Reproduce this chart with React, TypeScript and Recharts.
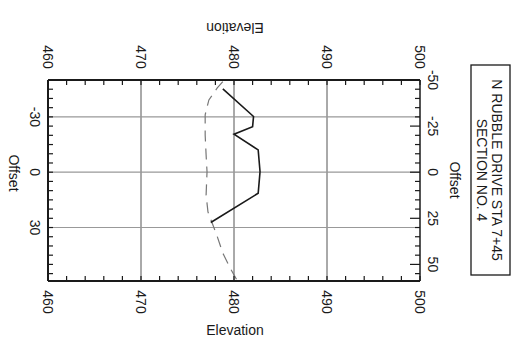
import { ScatterChart, Scatter, XAxis, YAxis, ReferenceLine } from 'recharts';

// cross-section, drawn sideways like the scanned sheet
const solidOffset = [-45.2, -30.2, -24.7, -20.6, -12.1, -0.3, 11.4, 27.3];
const solidElev = [478.8, 482.1, 482.0, 480.0, 482.6, 482.8, 482.6, 477.5];
const dashedOffset = [-49.1, -45.7, -39.2, -31.1, -20.2, -9.4, -0.2, 12.3, 21.5, 34.9, 43.9, 52.1, 58.4];
const dashedElev = [478.8, 478.2, 477.3, 476.9, 476.9, 477.0, 477.1, 477.0, 477.2, 478.2, 478.8, 479.6, 480.3];

const elevLabels = [460, 470, 480, 490, 500];
const elevTicks = [460, 462, 464, 466, 468, 470, 472, 474, 476, 478, 480, 482, 484, 486, 488, 490, 492, 494, 496, 498, 500];
const elevGrid = [470, 480, 490];
const offsetLeftLabels = [-30, 0, 30];
const offsetRightLabels = [-50, -25, 0, 25, 50];
const offsetTicks = [-50, -45, -40, -35, -30, -25, -20, -15, -10, -5, 0, 5, 10, 15, 20, 25, 30, 35, 40, 45, 50, 55];
const offsetGrid = [-30, 0, 30];
const titleLines = ['N RUBBLE DRIVE STA 7+45', 'SECTION NO. 4'];

const solidData = solidOffset.map((o, i) => ({ off: o, elev: solidElev[i] }));
const dashedData = dashedOffset.map((o, i) => ({ off: o, elev: dashedElev[i] }));

const FONT = '"Liberation Sans", Arial, sans-serif';
const INK = '#1a1a1a';

const rotText = (x: number, y: number, s: string | number, angle = 90, size = 14) => (
  <text
    x={x}
    y={y}
    transform={`rotate(${angle} ${x} ${y})`}
    textAnchor="middle"
    dominantBaseline="central"
    fontFamily={FONT}
    fontSize={size}
    fill={INK}
  >
    {s}
  </text>
);

const TopTick = ({ x, y, payload }: any) => (
  <g>
    <line x1={x} y1={y} x2={x} y2={y + 5} stroke={INK} strokeWidth={1.2} />
    {elevLabels.includes(payload.value) && rotText(x, y - 23, payload.value)}
  </g>
);

const BottomTick = ({ x, y, payload }: any) => (
  <g>
    <line x1={x} y1={y} x2={x} y2={y - 5} stroke={INK} strokeWidth={1.2} />
    {elevLabels.includes(payload.value) && rotText(x, y + 21, payload.value)}
  </g>
);

const LeftTick = ({ x, y, payload }: any) => (
  <g>
    <line x1={x} y1={y} x2={x + 5} y2={y} stroke={INK} strokeWidth={1.2} />
    {offsetLeftLabels.includes(payload.value) && rotText(x - 13, y, payload.value)}
  </g>
);

const RightTick = ({ x, y, payload }: any) => {
  const major = offsetRightLabels.includes(payload.value);
  return (
    <g>
      <line x1={x} y1={y} x2={x - (major ? 10 : 5)} y2={y} stroke={INK} strokeWidth={1.2} />
      {major && rotText(x + 13, y, payload.value)}
    </g>
  );
};

const TitleBox = () => (
  <g>
    <rect x={471} y={65} width={39} height={210} fill="none" stroke={INK} strokeWidth={1.3} />
    {rotText(497, 170, titleLines[0])}
    {rotText(482, 170, titleLines[1])}
  </g>
);

const Dot = () => <g />;

export default function App() {
  return (
    <div style={{ width: 519, height: 343, background: '#fff' }}>
      <style>{`body{margin:0}`}</style>
      <ScatterChart width={519} height={343} margin={{ top: 50, right: 69, bottom: 32, left: 18 }}>
        <XAxis
          xAxisId="top"
          orientation="top"
          type="number"
          dataKey="elev"
          domain={[460, 500]}
          ticks={elevTicks}
          interval={0}
          height={30}
          tickSize={0}
          tickMargin={0}
          tickLine={false}
          tick={TopTick}
          axisLine={{ stroke: INK, strokeWidth: 2 }}
          label={{ content: () => rotText(235, 28, 'Elevation', 180) }}
        />
        <XAxis
          xAxisId="bottom"
          orientation="bottom"
          type="number"
          dataKey="elev"
          domain={[460, 500]}
          ticks={elevTicks}
          interval={0}
          height={30}
          tickSize={0}
          tickMargin={0}
          tickLine={false}
          tick={BottomTick}
          axisLine={{ stroke: INK, strokeWidth: 2 }}
          label={{ content: () => rotText(235, 330, 'Elevation', 0) }}
        />
        <YAxis
          yAxisId="left"
          orientation="left"
          type="number"
          dataKey="off"
          domain={[-50, 59]}
          reversed
          ticks={offsetTicks}
          interval={0}
          width={30}
          tickSize={0}
          tickMargin={0}
          tickLine={false}
          tick={LeftTick}
          axisLine={{ stroke: INK, strokeWidth: 2 }}
          label={{ content: () => rotText(14, 173, 'Offset') }}
        />
        <YAxis
          yAxisId="right"
          orientation="right"
          type="number"
          dataKey="off"
          domain={[-50, 59]}
          reversed
          ticks={offsetTicks}
          interval={0}
          width={30}
          tickSize={0}
          tickMargin={0}
          tickLine={false}
          tick={RightTick}
          axisLine={{ stroke: INK, strokeWidth: 1.5 }}
          label={{ content: () => (
            <g>
              {rotText(455, 180, 'Offset')}
              <TitleBox />
            </g>
          ) }}
        />
        {elevGrid.map((v) => (
          <ReferenceLine key={'e' + v} x={v} xAxisId="bottom" yAxisId="left" stroke="#555" strokeWidth={1} />
        ))}
        {offsetGrid.map((v) => (
          <ReferenceLine key={'o' + v} y={v} xAxisId="bottom" yAxisId="left" stroke="#999" strokeWidth={1.2} />
        ))}
        <Scatter
          data={dashedData}
          xAxisId="top"
          yAxisId="right"
          line={{ stroke: '#777', strokeWidth: 1.2, strokeDasharray: '11 7' }}
          shape={<Dot />}
          isAnimationActive={false}
        />
        <Scatter
          data={solidData}
          xAxisId="bottom"
          yAxisId="left"
          line={{ stroke: INK, strokeWidth: 1.6 }}
          shape={<Dot />}
          isAnimationActive={false}
        />
      </ScatterChart>
    </div>
  );
}
